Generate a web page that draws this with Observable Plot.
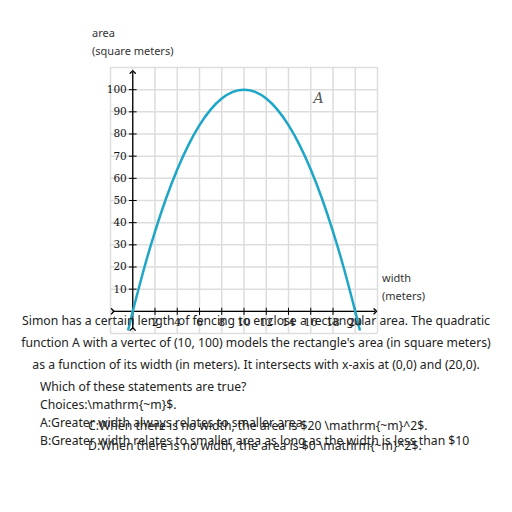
<!DOCTYPE html>
<html><head><meta charset="utf-8">
<script src="https://cdn.jsdelivr.net/npm/d3@7"></script>
<script src="https://cdn.jsdelivr.net/npm/@observablehq/plot@0.6"></script>
<style>
body{margin:0;background:#fff;font-family:"Noto Sans",sans-serif;}
#wrap{position:relative;width:512px;height:512px;}
#chart{position:absolute;left:0;top:0;}
.t{position:absolute;white-space:nowrap;color:#222;font-size:12.2px;}
.lab{position:absolute;font-size:11px;color:#333;}
</style></head><body>
<div id="wrap">
<div id="chart"></div>
<div class="lab" style="left:92px;top:25px">area</div>
<div class="lab" style="left:92px;top:43px">(square meters)</div>
<div class="lab" style="left:382px;top:270px">width</div>
<div class="lab" style="left:382px;top:288px">(meters)</div>
<div class="t" style="left:0;width:512px;text-align:center;top:312px">Simon has a certain length of fencing to enclose a rectangular area. The quadratic</div>
<div class="t" style="left:0;width:512px;text-align:center;top:334px">function A with a vertec of (10, 100) models the rectangle's area (in square meters)</div>
<div class="t" style="left:0;width:512px;text-align:center;top:356px">as a function of its width (in meters). It intersects with x-axis at (0,0) and (20,0).</div>
<div class="t" style="left:40px;top:378px">Which of these statements are true?</div>
<div class="t" style="left:40px;top:396px">Choices:\mathrm{~m}$.</div>
<div class="t" style="left:40px;top:414px">A:Greater width always relates to smaller area.</div>
<div class="t" style="left:88px;top:417px">C:When there is no width, the area is $20 \mathrm{~m}^2$.</div>
<div class="t" style="left:40px;top:432px">B:Greater width relates to smaller area as long as the width is less than $10</div>
<div class="t" style="left:88px;top:437px">D:When there is no width, the area is $0 \mathrm{~m}^2$.</div>
</div>
<script>
const widths = [0,1,2,3,4,5,6,7,8,9,10,11,12,13,14,15,16,17,18,19,20,20.4];
const areas  = [0,19,36,51,64,75,84,91,96,99,100,99,96,91,84,75,64,51,36,19,0,-8.2];
const widthsLeft = [-0.4,0];
const areasLeft = [-8.2,0];
const xTicks = [2,4,6,8,10,12,14,16,18,20];
const yTicks = [10,20,30,40,50,60,70,80,90,100];
const xGrid = d3.range(-2,23,2);
const yGrid = d3.range(-10,111,10);

const curve = widths.map((w,i)=>({w,a:areas[i]}));
const curveL = widthsLeft.map((w,i)=>({w,a:areasLeft[i]}));
const serif = "DejaVu Serif, Liberation Serif, serif";

const chart = Plot.plot({
  width:512, height:340,
  marginLeft:110, marginRight:135, marginTop:67, marginBottom:7,
  x:{domain:[-2,22], axis:null},
  y:{domain:[-10,110], axis:null},
  marks:[
    Plot.ruleX(xGrid,{stroke:"#ddd",strokeWidth:1.5}),
    Plot.ruleY(yGrid,{stroke:"#ddd",strokeWidth:1.5}),
    Plot.link([{x1:-1.8,x2:21.8}],{x1:"x1",x2:"x2",y1:0,y2:0,stroke:"#000",strokeWidth:1.3,markerStart:"arrow",markerEnd:"arrow"}),
    Plot.link([{y1:-8,y2:108}],{y1:"y1",y2:"y2",x1:0,x2:0,stroke:"#000",strokeWidth:1.3,markerStart:"arrow",markerEnd:"arrow"}),
    Plot.link(yTicks,{x1:-0.35,x2:0.35,y1:d=>d,y2:d=>d,stroke:"#000"}),
    Plot.link(xTicks,{x1:d=>d,x2:d=>d,y1:-1.6,y2:1.6,stroke:"#000"}),
    Plot.text(yTicks,{x:0,y:d=>d,text:d=>String(d),dx:-6,textAnchor:"end",fontFamily:serif,fontSize:10.5,fill:"#111"}),
    Plot.text(xTicks,{x:d=>d,y:0,text:d=>String(d),dy:11,fontFamily:serif,fontSize:10.5,fill:"#111"}),
    Plot.line(curve,{x:"w",y:"a",stroke:"#1ea6c6",strokeWidth:2.5,curve:"natural"}),
    Plot.line(curveL,{x:"w",y:"a",stroke:"#1ea6c6",strokeWidth:2.5}),
    Plot.text([{x:16.7,y:96}],{x:"x",y:"y",text:()=>"A",fontFamily:serif,fontStyle:"italic",fontSize:14,fill:"#555"})
  ]
});
document.getElementById("chart").append(chart);
</script>
</body></html>
